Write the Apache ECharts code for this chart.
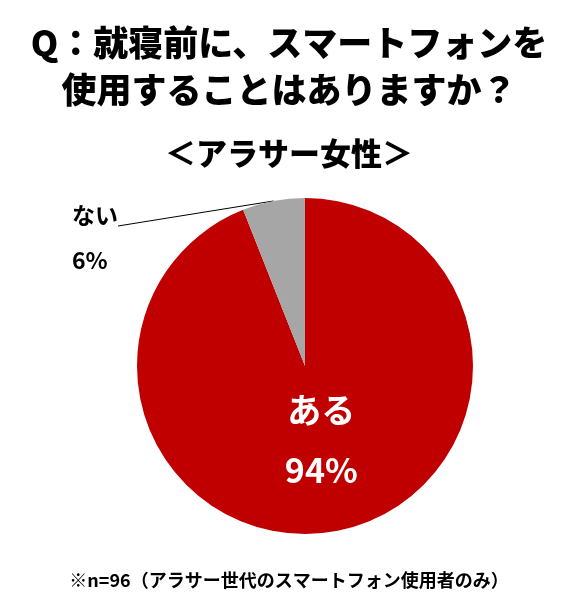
<!DOCTYPE html>
<html><head><meta charset="utf-8">
<script src="https://cdn.jsdelivr.net/npm/echarts@6/dist/echarts.min.js"></script>
<style>html,body{margin:0;padding:0;background:#fff}#c{width:578px;height:609px}</style>
</head><body><div id="c"></div>
<script>
const titleLines = ['Q：就寝前に、スマートフォンを', '使用することはありますか？'];
const subtitle = '＜アラサー女性＞';
const footnote = '※n=96（アラサー世代のスマートフォン使用者のみ）';
const categories = ['ある', 'ない'];
const values = [94, 6];
const colors = ['#C00000', '#A6A6A6'];

const font = '"Noto Sans CJK JP", "Noto Sans", sans-serif';
const blackRich = { fontFamily: font, fontSize: 23, fontWeight: 'bold', color: '#000' };
const chart = echarts.init(document.getElementById('c'));
const base = {
  type: 'pie', center: [305, 366], radius: 168, startAngle: 90, clockwise: true, silent: true
};
chart.setOption({
  animation: false,
  backgroundColor: '#fff',
  title: [
    { text: titleLines.join('\n'), left: 'center', top: 14,
      textStyle: { fontFamily: font, fontSize: 35, fontWeight: 900, color: '#000', lineHeight: 47 } },
    { text: subtitle, left: 'center', top: 133,
      textStyle: { fontFamily: font, fontSize: 31, fontWeight: 900, color: '#000' } },
    { text: footnote, left: 'center', top: 566,
      textStyle: { fontFamily: font, fontSize: 18, fontWeight: 'bold', color: '#000' } }
  ],
  series: [
    Object.assign({}, base, {
      data: categories.map((name, i) => {
        const d = { name, value: values[i], itemStyle: { color: colors[i] } };
        if (i === 0) {
          d.label = { position: 'inside', formatter: '{a|{b}}\n{a|{c}%}',
            rich: { a: { fontFamily: font, fontSize: 34, fontWeight: 'bold', color: '#fff', lineHeight: 60, align: 'center' } } };
          d.labelLine = { show: false };
        } else {
          d.label = { position: 'outside', formatter: '{b}\n ', lineHeight: 22, ...blackRich };
          d.labelLine = { show: true, length: 0, length2: 0, lineStyle: { color: '#000', width: 1 } };
        }
        return d;
      }),
      labelLayout: function (p) {
        if (p.dataIndex === 1) return { x: 72, y: 226, align: 'left', verticalAlign: 'middle' };
        return { dy: -11 };
      }
    }),
    Object.assign({}, base, {
      z: 1,
      data: categories.map((name, i) => ({
        name, value: values[i], itemStyle: { color: 'transparent' },
        label: i === 1 ? { show: true, position: 'outside', formatter: '{c}%', ...blackRich } : { show: false },
        labelLine: { show: false }
      })),
      labelLayout: function (p) {
        if (p.dataIndex === 1) return { x: 72, y: 260, align: 'left', verticalAlign: 'middle' };
        return {};
      }
    })
  ]
});
</script></body></html>
